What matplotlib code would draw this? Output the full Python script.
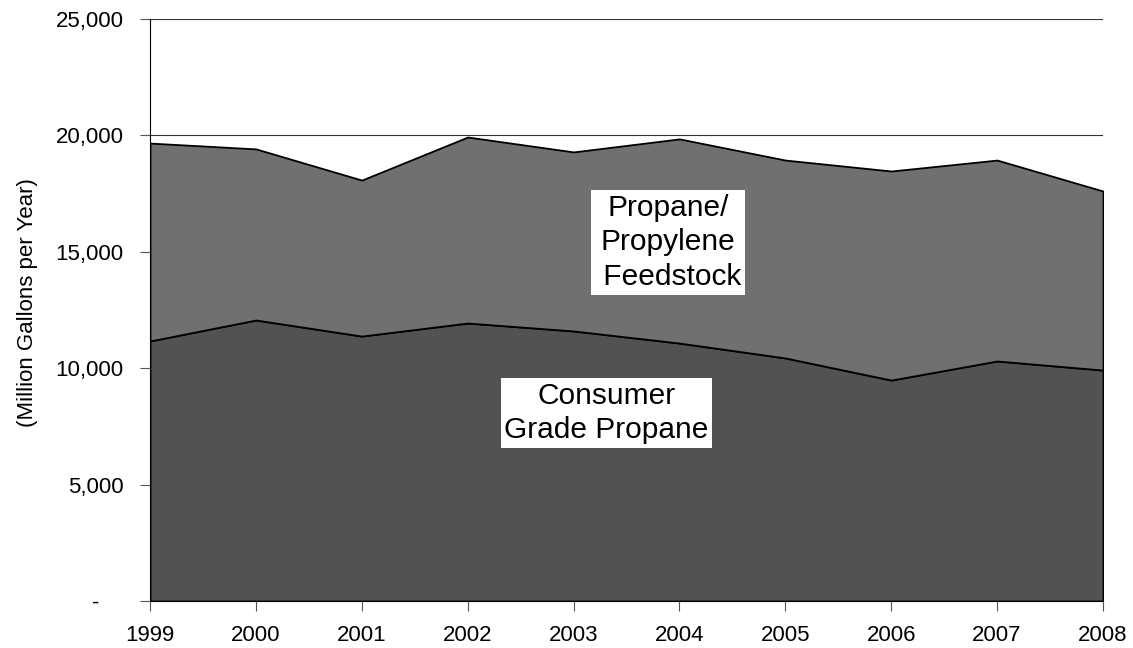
import matplotlib
matplotlib.use("Agg")
import matplotlib.pyplot as plt
from matplotlib.ticker import FuncFormatter

plt.rcParams['font.family'] = ['Liberation Sans', 'DejaVu Sans']

years = [1999, 2000, 2001, 2002, 2003, 2004, 2005, 2006, 2007, 2008]
consumer = [11170, 12070, 11380, 11940, 11600, 11080, 10440, 9490, 10310, 9920]
total = [19670, 19420, 18080, 19930, 19290, 19850, 18940, 18470, 18940, 17610]
feedstock = [t - c for t, c in zip(total, consumer)]
yticks = [0, 5000, 10000, 15000, 20000, 25000]

fig = plt.figure(figsize=(11.33, 6.48), dpi=100)
ax = fig.add_axes([150/1133, 1-601/648, (1103-150)/1133, (601-19)/648])

ax.stackplot(years, consumer, feedstock, colors=['#525252', '#707070'],
             edgecolor='black', linewidth=1.3, zorder=2)

ax.set_xlim(years[0], years[-1])
ax.set_ylim(0, 25000)
ax.set_yticks(yticks)
ax.set_xticks(years)
ax.yaxis.set_major_formatter(FuncFormatter(lambda v, p: '-    ' if v == 0 else f'{int(v):,}'))
ax.grid(axis='y', color='#333333', linewidth=0.8, zorder=0)
ax.set_axisbelow(True)

for s in ['top', 'right']:
    ax.spines[s].set_visible(False)
ax.spines['left'].set_color('black')
ax.spines['bottom'].set_color('black')
ax.tick_params(axis='both', direction='out', length=7, width=0.8, color='#555555',
               labelsize=16)
ax.tick_params(axis='y', pad=12)
ax.tick_params(axis='x', pad=10)

ax.set_ylabel('(Million Gallons per Year)', fontsize=16)
ax.yaxis.set_label_coords(-0.118, 0.513)

ax.text(2003.89, 15400, 'Propane/\nPropylene\n Feedstock', fontsize=21.5, ha='center', va='center',
        multialignment='center', linespacing=1.3,
        bbox=dict(facecolor='white', edgecolor='none', pad=2.5), zorder=5)
ax.text(2003.31, 8080, 'Consumer\nGrade Propane', fontsize=21.5, ha='center', va='center',
        multialignment='center', linespacing=1.3,
        bbox=dict(facecolor='white', edgecolor='none', pad=2.5), zorder=5)

fig.savefig('out.png', dpi=100)
